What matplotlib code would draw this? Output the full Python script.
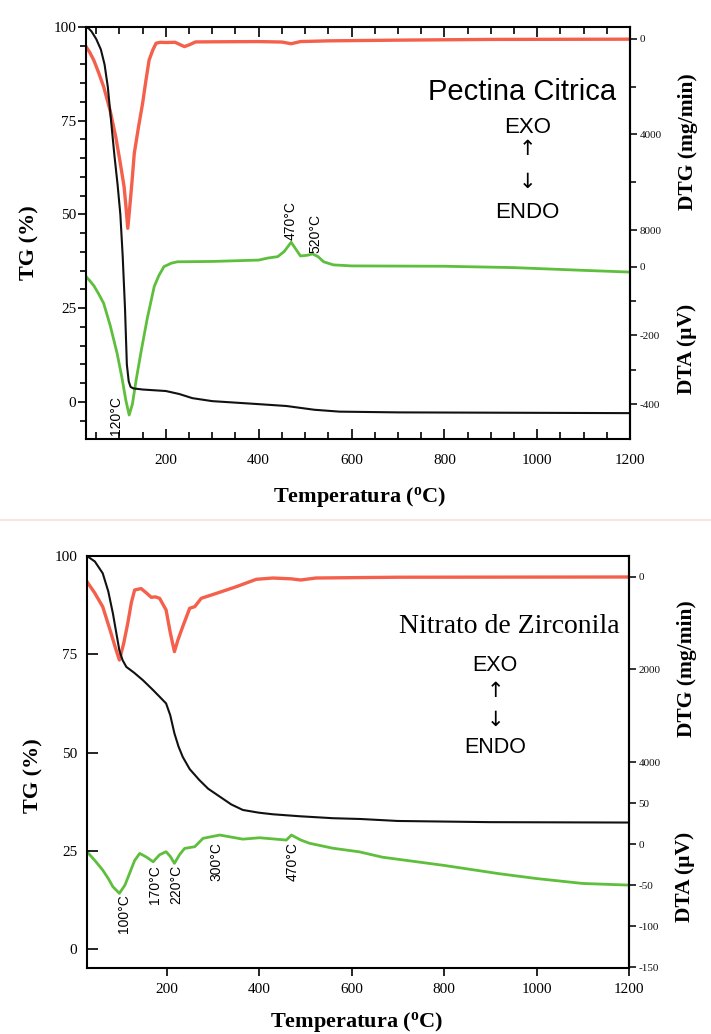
import numpy as np
import matplotlib
matplotlib.use('Agg')
import matplotlib.pyplot as plt
from matplotlib.ticker import FixedLocator, MultipleLocator

plt.rcParams['font.family'] = ['Liberation Serif', 'DejaVu Serif']
plt.rcParams['axes.unicode_minus'] = False
plt.rcParams['mathtext.fontset'] = 'custom'
plt.rcParams['mathtext.rm'] = 'Liberation Serif'
plt.rcParams['mathtext.bf'] = 'Liberation Serif:bold'

# ---- Pectina Citrica ----
pc_tg_t = [28, 34, 40, 50, 60, 68, 75, 82, 89, 96, 102, 107, 112, 116, 120, 124, 130, 150,
           200, 229, 257, 300, 400, 460, 520, 574, 700, 1200]
pc_tg = [100, 99.6, 98.8, 96.8, 94, 90, 84, 75, 66, 58, 50, 39, 25, 10, 5.5, 4.0, 3.6, 3.3,
         2.9, 2.1, 1.0, 0.2, -0.6, -1.1, -2.1, -2.6, -2.8, -3.0]

pc_dtg_t = [28, 36, 45, 55, 66, 80, 92, 101, 110, 114, 118, 122, 127, 132, 141, 150, 157,
            164, 172, 179, 188, 200, 220, 232, 240, 250, 264, 300, 400, 450, 470, 490, 550,
            700, 900, 1200]
pc_dtg = [322, 560, 900, 1400, 2000, 3000, 4090, 5100, 6180, 7000, 7930, 7100, 6000, 4790,
          3700, 2690, 1750, 880, 460, 180, 140, 150, 140, 250, 320, 250, 125, 120, 110, 130,
          200, 110, 80, 50, 20, 10]

pc_dta_t = [28, 36, 45, 55, 66, 80, 95, 105, 114, 121, 128, 136, 146, 160, 175, 185, 196,
            212, 225, 300, 400, 420, 441, 455, 470, 480, 490, 505, 516, 528, 540, 561, 600,
            800, 950, 1100, 1200]
pc_dta = [-28, -40, -55, -78, -106, -170, -252, -320, -390, -432, -400, -330, -252, -150,
          -57, -25, 1, 11, 15, 16, 20, 26, 30, 45, 72, 52, 32, 34, 38, 30, 15, 6, 3, 2, -2,
          -10, -15]

pc_peaks = ['120°C', '470°C', '520°C']
pc_peak_t = [92, 469, 523]
pc_peak_y = [-3.7, 48.3, 44.8]

# ---- Nitrato de Zirconila ----
nz_tg_t = [28, 45, 62, 74, 84, 92, 98, 105, 113, 130, 149, 170, 185, 199, 208, 217, 226,
           235, 250, 271, 290, 315, 340, 365, 400, 430, 488, 560, 620, 700, 900, 1200]
nz_tg = [100, 98.6, 95.6, 91, 85.4, 80, 76, 73.5, 71.8, 70.3, 68.4, 66, 64.2, 62.5, 59.5,
         54.9, 51.5, 48.9, 45.8, 43, 40.8, 38.8, 36.8, 35.4, 34.7, 34.3, 33.8, 33.3, 33.1,
         32.6, 32.3, 32.2]

nz_dtg_t = [28, 45, 62, 78, 90, 98, 107, 116, 124, 131, 145, 157, 167, 176, 185, 199, 208,
            217, 225, 235, 250, 261, 275, 308, 351, 394, 430, 470, 490, 523, 700, 1200]
nz_dtg = [102, 350, 643, 1150, 1550, 1795, 1450, 1008, 550, 281, 250, 350, 439, 430, 461,
          713, 1200, 1614, 1350, 1073, 677, 641, 461, 353, 209, 50, 22, 40, 65, 22, 5, 0]

nz_dta_t = [28, 45, 62, 74, 84, 98, 110, 120, 131, 142, 157, 171, 185, 199, 208, 217, 228,
            239, 261, 279, 315, 365, 401, 459, 470, 490, 509, 559, 617, 667, 800, 918, 1000,
            1100, 1200]
nz_dta = [-9.3, -20, -31.7, -42, -52, -60, -50, -35.8, -20, -11.4, -16, -21.6, -13, -9.3,
          -15, -23.5, -13, -5.3, -3.2, 7, 11, 6, 7.7, 4.9, 11, 5, 1, -5, -9.5, -16, -26, -36,
          -42, -48, -50]

nz_peaks = ['100°C', '170°C', '220°C', '300°C', '470°C']
nz_peak_t = [107, 174, 221, 308, 473]
nz_peak_y = [9.0, 16.5, 16.5, 22.3, 22.3]

black = '#111111'
red = '#f4604c'
green = '#5dbf3c'
sans = ['Liberation Sans', 'DejaVu Sans']

fig = plt.figure(figsize=(7.11, 10.34), dpi=100)


def make_axes(rect):
    ax = fig.add_axes(rect)
    dtg = ax.twinx()
    dta = ax.twinx()
    ax.set_zorder(3)
    ax.patch.set_visible(False)
    for a in (ax, dtg, dta):
        for s in a.spines.values():
            s.set_linewidth(1.5)
    for a in (dtg, dta):
        a.spines['left'].set_visible(False)
        a.spines['top'].set_visible(False)
        a.spines['bottom'].set_visible(False)
        a.tick_params(axis='y', which='both', direction='out', width=1.2,
                      labelsize=8, pad=2, colors=black)
        a.tick_params(axis='y', which='major', length=5)
        a.tick_params(axis='y', which='minor', length=4)
    dta.spines['right'].set_visible(False)
    return ax, dtg, dta


def exo_endo(ax, x, ys, size):
    ax.text(x, ys[0], 'EXO', transform=ax.transAxes, ha='center', va='center',
            fontsize=size, family=sans)
    ax.text(x, ys[1], '↑', transform=ax.transAxes, ha='center', va='center',
            fontsize=15, family=['DejaVu Sans'])
    ax.text(x, ys[2], '↓', transform=ax.transAxes, ha='center', va='center',
            fontsize=15, family=['DejaVu Sans'])
    ax.text(x, ys[3], 'ENDO', transform=ax.transAxes, ha='center', va='center',
            fontsize=size, family=sans)


# ---------------- top panel ----------------
ax1, dtg1, dta1 = make_axes([86 / 711, 1 - 439 / 1034, 544 / 711, 412 / 1034])
ax1.plot(pc_tg_t, pc_tg, color=black, lw=1.5)
dtg1.plot(pc_dtg_t, pc_dtg, color=red, lw=2.4)
dta1.plot(pc_dta_t, pc_dta, color=green, lw=2.0)

ax1.set_xlim(28, 1200)
ax1.set_ylim(-9.9, 100)
dtg1.set_ylim(16750, -500)
dta1.set_ylim(-502, 700)

ax1.xaxis.set_major_locator(MultipleLocator(200))
ax1.xaxis.set_minor_locator(MultipleLocator(50))
ax1.yaxis.set_major_locator(FixedLocator([0, 25, 50, 75, 100]))
ax1.yaxis.set_minor_locator(MultipleLocator(5))
ax1.tick_params(axis='x', which='both', direction='in', top=True, width=1.2,
                labelsize=11, pad=11)
ax1.tick_params(axis='x', which='major', length=7)
ax1.tick_params(axis='x', which='minor', length=5)
ax1.tick_params(axis='y', which='both', direction='out', width=1.2, labelsize=11, pad=1)
ax1.tick_params(axis='y', which='major', length=6)
ax1.tick_params(axis='y', which='minor', length=4)

dtg1.yaxis.set_major_locator(FixedLocator([0, 4000, 8000]))
dtg1.yaxis.set_minor_locator(FixedLocator([2000, 6000]))
dta1.yaxis.set_major_locator(FixedLocator([-400, -200, 0]))
dta1.yaxis.set_minor_locator(FixedLocator([-300, -100]))

for lab, t, y in zip(pc_peaks, pc_peak_t, pc_peak_y):
    ax1.text(t, y, lab, rotation=90, ha='center', va='center', fontsize=10, family=sans)

ax1.text(0.802, 0.842, 'Pectina Citrica', transform=ax1.transAxes, ha='center',
         va='center', fontsize=21, family=sans)
exo_endo(ax1, 0.811, [0.757, 0.703, 0.624, 0.549], 16)

fig.text(0.042, 0.765, 'TG (%)', rotation=90, ha='center', va='center',
         fontsize=16, fontweight='bold')
fig.text(0.968, 0.863, 'DTG (mg/min)', rotation=90, ha='center', va='center',
         fontsize=15.5, fontweight='bold')
fig.text(0.966, 0.663, 'DTA (µV)', rotation=90, ha='center', va='center',
         fontsize=15.5, fontweight='bold')
fig.text(0.506, 0.519, r'Temperatura ($\mathbf{^o}$C)', ha='center', va='center',
         fontsize=16, fontweight='bold')

# faint divider between the two pictures
fig.add_artist(plt.Line2D([0, 1], [0.497, 0.497], transform=fig.transFigure,
                          color='#fbe6df', lw=1.5))

# ---------------- bottom panel ----------------
ax2, dtg2, dta2 = make_axes([87 / 711, 1 - 968 / 1034, 542 / 711, 412 / 1034])
ax2.plot(nz_tg_t, nz_tg, color=black, lw=1.5)
dtg2.plot(nz_dtg_t, nz_dtg, color=red, lw=2.4)
dta2.plot(nz_dta_t, nz_dta, color=green, lw=2.0)

ax2.set_xlim(28, 1200)
ax2.set_ylim(-4.8, 100)
dtg2.set_ylim(8454, -454)
dta2.set_ylim(-151, 351)

ax2.xaxis.set_major_locator(MultipleLocator(200))
ax2.yaxis.set_major_locator(FixedLocator([0, 25, 50, 75, 100]))
ax2.tick_params(axis='x', direction='out', length=6, width=1.2, labelsize=11, pad=5)
ax2.tick_params(axis='y', direction='in', length=8, width=1.2, labelsize=11, pad=7)

dtg2.yaxis.set_major_locator(FixedLocator([0, 2000, 4000]))
dta2.yaxis.set_major_locator(FixedLocator([-150, -100, -50, 0, 50]))

for lab, t, y in zip(nz_peaks, nz_peak_t, nz_peak_y):
    ax2.text(t, y, lab, rotation=90, ha='center', va='center', fontsize=10, family=sans)

ax2.text(0.78, 0.830, 'Nitrato de Zirconila', transform=ax2.transAxes, ha='center',
         va='center', fontsize=20)
exo_endo(ax2, 0.753, [0.735, 0.672, 0.602, 0.536], 15.5)

fig.text(0.047, 0.25, 'TG (%)', rotation=90, ha='center', va='center',
         fontsize=16, fontweight='bold')
fig.text(0.966, 0.353, 'DTG (mg/min)', rotation=90, ha='center', va='center',
         fontsize=15.5, fontweight='bold')
fig.text(0.963, 0.152, 'DTA (µV)', rotation=90, ha='center', va='center',
         fontsize=15.5, fontweight='bold')
fig.text(0.502, 0.012, r'Temperatura ($\mathbf{^o}$C)', ha='center', va='center',
         fontsize=16, fontweight='bold')

fig.savefig('out.png', dpi=100)
